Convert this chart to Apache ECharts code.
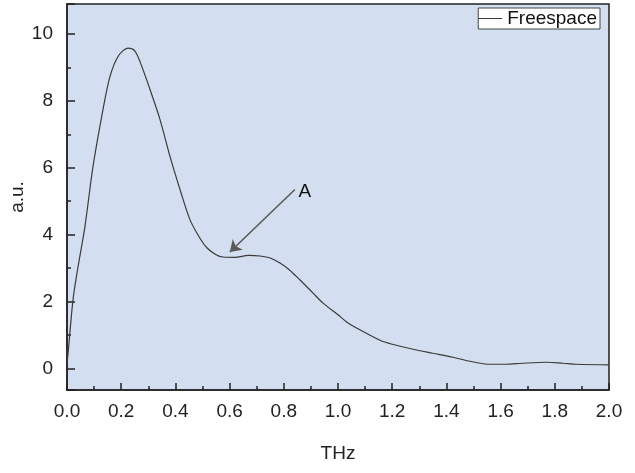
<!DOCTYPE html>
<html>
<head>
<meta charset="utf-8">
<script src="https://cdn.jsdelivr.net/npm/echarts@6/dist/echarts.min.js"></script>
<style>
  html, body { margin: 0; padding: 0; background: #fff; }
  .chart { width: 635px; height: 473px; }
</style>
</head>
<body>
<div class="chart"></div>
<script>
// frequency (THz) and amplitude (a.u.)
const freq = [0, 0.004, 0.022, 0.04, 0.066, 0.096, 0.133, 0.159, 0.19, 0.225, 0.25, 0.27, 0.306, 0.343, 0.38, 0.417, 0.454, 0.49, 0.517, 0.55, 0.576, 0.62, 0.67, 0.712, 0.75, 0.786, 0.82, 0.86, 0.908, 0.945, 1.0, 1.033, 1.07, 1.155, 1.2, 1.277, 1.35, 1.424, 1.487, 1.56, 1.62, 1.68, 1.77, 1.83, 1.88, 2.0]
const freespace = [0.15, 0.45, 2.04, 3.0, 4.23, 6.04, 7.75, 8.74, 9.35, 9.58, 9.5, 9.16, 8.35, 7.45, 6.34, 5.35, 4.44, 3.9, 3.6, 3.4, 3.33, 3.32, 3.38, 3.36, 3.3, 3.15, 2.95, 2.64, 2.25, 1.95, 1.6, 1.38, 1.2, 0.84, 0.72, 0.57, 0.45, 0.33, 0.21, 0.12, 0.12, 0.15, 0.18, 0.15, 0.12, 0.1]
const yTicks = [0, 2, 4, 6, 8, 10]
const arrowFrom = [0.841, 5.35]
const arrowTo = [0.601, 3.48]
const labelA = [0.878, 5.28]

const font = 'Liberation Sans, Arial, sans-serif'
const chart = echarts.init(document.querySelector('.chart'))

chart.setOption({
  animation: false,
  textStyle: { fontFamily: font },
  grid: {
    left: 67, right: 26, top: 4, bottom: 83,
    outerBoundsMode: 'none',
    containLabel: false,
    show: true,
    backgroundColor: '#d3dff0',
    borderColor: '#222',
    borderWidth: 1.5
  },
  legend: {
    right: 35, top: 8,
    padding: [1, 3, 1, 0],
    backgroundColor: '#fff',
    borderColor: '#444',
    borderWidth: 1,
    borderRadius: 0,
    icon: 'rect',
    itemWidth: 24,
    itemHeight: 1,
    itemGap: 0,
    itemStyle: { color: '#3a3a3a' },
    textStyle: { fontSize: 19, color: '#111', padding: [0, 0, 0, 0] },
    data: ['Freespace']
  },
  xAxis: {
    type: 'value',
    min: 0, max: 2, interval: 0.2,
    name: 'THz',
    nameLocation: 'middle',
    nameGap: 54,
    nameMoveOverlap: false,
    nameTextStyle: { fontSize: 19, color: '#222' },
    axisLine: { onZero: false, lineStyle: { color: '#222', width: 1.5 } },
    axisTick: { inside: true, length: 7, lineStyle: { color: '#222', width: 1.5 } },
    minorTick: { show: true, splitNumber: 2, length: 4, lineStyle: { color: '#222', width: 1.5 } },
    axisLabel: { fontSize: 19, color: '#222', margin: 12, formatter: v => v.toFixed(1) },
    splitLine: { show: false }
  },
  yAxis: {
    type: 'value',
    min: -0.65, max: 10.9,
    splitNumber: 5,
    name: 'a.u.',
    nameLocation: 'middle',
    nameGap: 40,
    nameMoveOverlap: false,
    nameTextStyle: { fontSize: 19, color: '#222' },
    axisLine: { show: true, onZero: false, lineStyle: { color: '#222', width: 1.5 } },
    axisTick: { inside: true, length: 8, lineStyle: { color: '#222', width: 1.5 } },
    minorTick: { show: true, splitNumber: 2, length: 4, lineStyle: { color: '#222', width: 1.5 } },
    axisLabel: {
      fontSize: 19, color: '#222', margin: 14,
      formatter: v => (yTicks.includes(v) ? String(v) : '')
    },
    splitLine: { show: false }
  },
  series: [
    {
      name: 'Freespace',
      type: 'line',
      data: freq.map((x, i) => [x, freespace[i]]),
      smooth: 0.3,
      symbol: 'none',
      lineStyle: { color: '#3a3a3a', width: 1.2 },
      itemStyle: { color: '#3a3a3a' },
      markLine: {
        silent: true,
        symbol: ['none', 'arrow'],
        symbolSize: 11,
        label: { show: false },
        lineStyle: { color: '#5a5a5a', width: 1.6, type: 'solid' },
        data: [[{ coord: arrowFrom }, { coord: arrowTo }]]
      },
      markPoint: {
        silent: true,
        symbol: 'circle',
        symbolSize: 0,
        label: { show: true, formatter: 'A', fontSize: 19, color: '#111', fontFamily: font },
        data: [{ coord: labelA }]
      }
    }
  ]
})
</script>
</body>
</html>
